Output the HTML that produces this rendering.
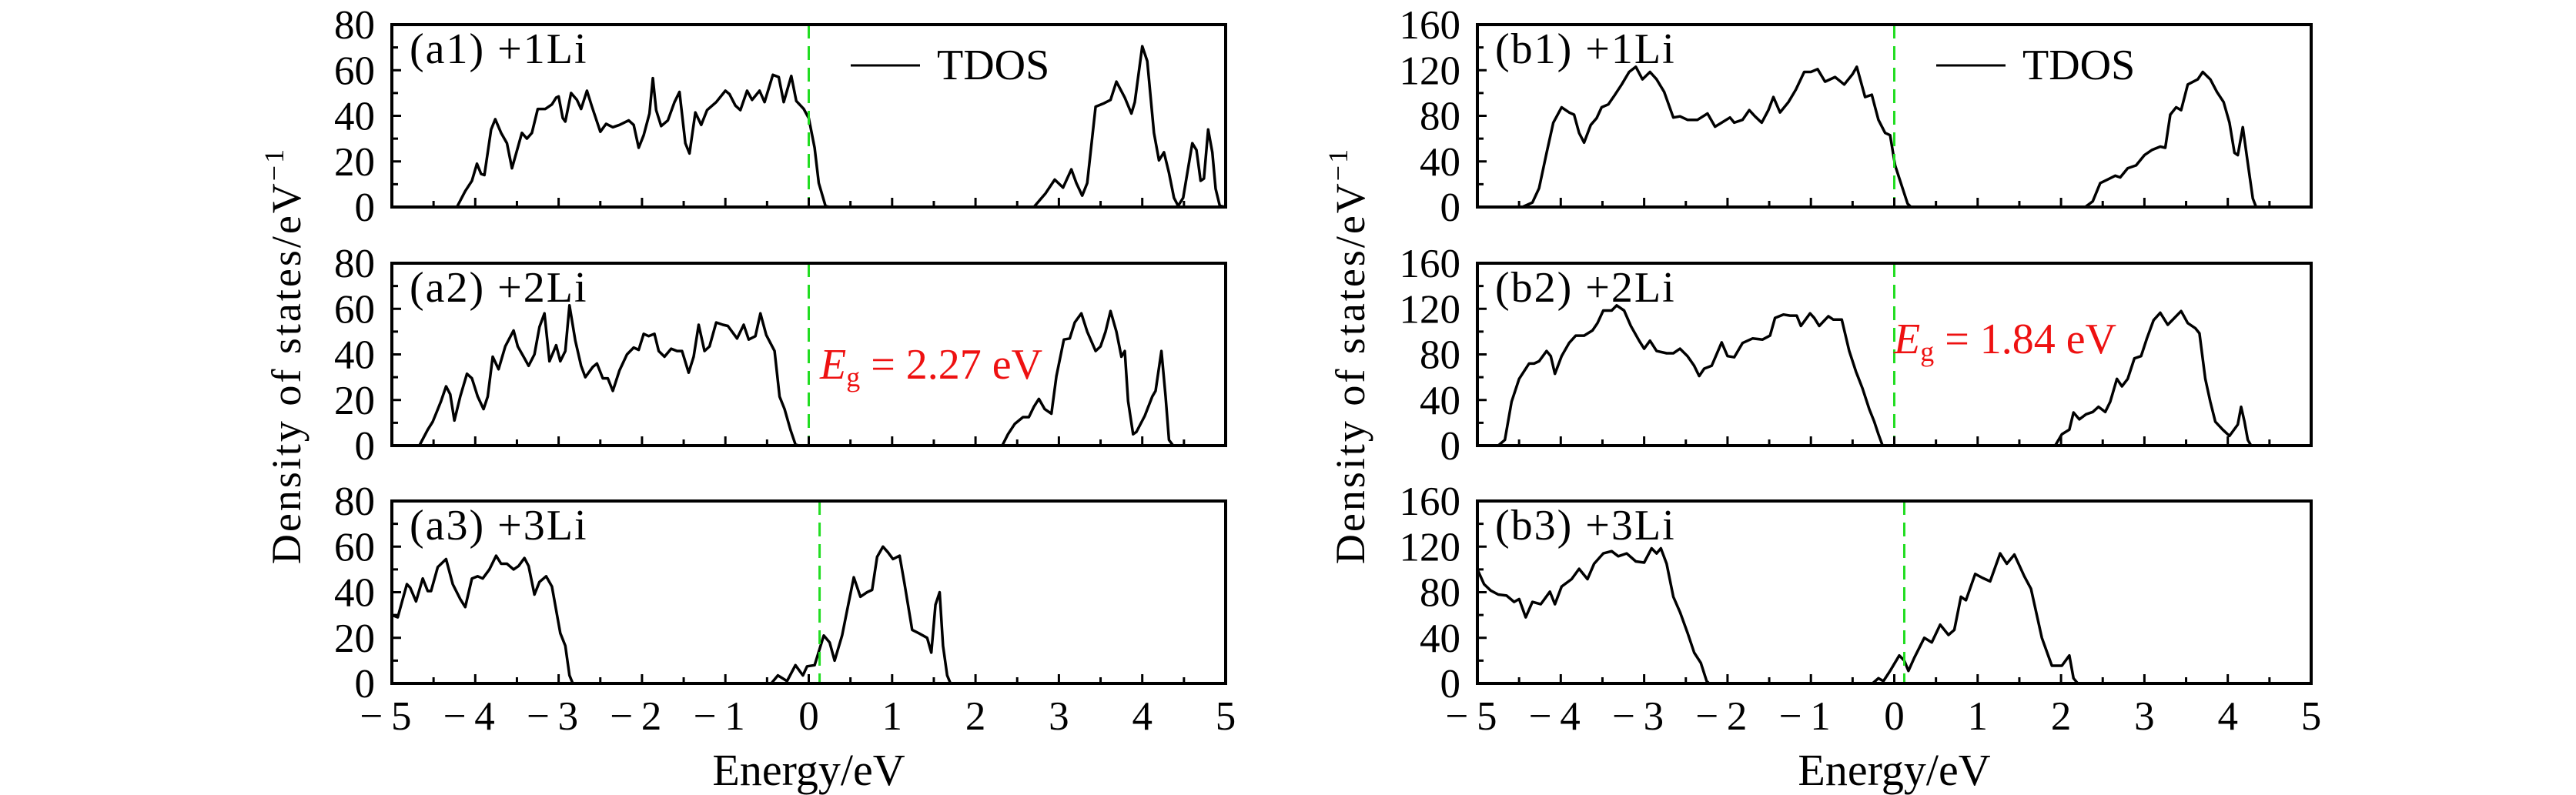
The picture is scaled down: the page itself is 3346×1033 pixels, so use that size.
<!DOCTYPE html>
<html><head><meta charset="utf-8"><style>
html,body{margin:0;padding:0;background:#fff;}
svg{display:block;}
text{font-family:"Liberation Serif",serif;fill:#000;}
</style></head><body>
<svg id="chart" width="3346" height="1033" viewBox="0 0 3346 1033" xmlns="http://www.w3.org/2000/svg"></svg>
<script>
// ---- data ----
const xTicks = [-5,-4,-3,-2,-1,0,1,2,3,4,5];
const yTicksA = [0,20,40,60,80];
const yTicksB = [0,40,80,120,160];
const panelLabels = ["(a1)  +1Li","(a2)  +2Li","(a3)  +3Li","(b1)  +1Li","(b2)  +2Li","(b3)  +3Li"];
const fermiLines = [0,0,0.13,0,0,0.12];
const gapLabels = ["2.27","1.84"];

const a1E=[-5,-4.22,-4.12,-4.04,-3.98,-3.93,-3.89,-3.81,-3.76,-3.69,-3.62,-3.56,-3.49,-3.44,-3.38,-3.32,-3.25,-3.16,-3.08,-3.03,-3.0,-2.95,-2.92,-2.85,-2.78,-2.73,-2.66,-2.6,-2.5,-2.43,-2.35,-2.27,-2.16,-2.1,-2.04,-1.98,-1.91,-1.87,-1.83,-1.77,-1.69,-1.61,-1.55,-1.48,-1.43,-1.36,-1.29,-1.22,-1.11,-1.0,-0.95,-0.88,-0.82,-0.74,-0.68,-0.59,-0.53,-0.43,-0.36,-0.3,-0.21,-0.15,-0.06,0.0,0.07,0.12,0.2,0.25,2.7,2.84,2.95,3.05,3.15,3.21,3.28,3.34,3.44,3.54,3.62,3.69,3.79,3.87,3.91,4.0,4.06,4.14,4.2,4.26,4.32,4.38,4.43,4.49,4.6,4.65,4.7,4.74,4.79,4.84,4.88,4.93,5];
const a1D=[0,0,7,11.5,19,14.5,14,34,38.5,32.5,28,17,26,32.5,30,32.5,43,43,45,48,48.5,39,37.5,50,47,43,51,44,33,36.5,35,36,38,36,26,31.5,41,56.5,42.5,35.5,38,46,50.5,28,23.5,41.5,36,42.5,46,51,49.5,44.5,42.5,51,47,51,46,58,57,46,57.5,46.5,43,39,26,10.5,0.5,0,0,6,12,8.5,16.5,10.5,5,10.5,44,45.5,47,55,48,41,46,70.5,64,32.5,20.5,24,15,4,0.5,4,28,25,11.5,12.5,34,24,8,0.5,0];

const a2E=[-5,-4.67,-4.57,-4.51,-4.46,-4.41,-4.35,-4.3,-4.25,-4.18,-4.1,-4.04,-3.97,-3.9,-3.85,-3.79,-3.72,-3.64,-3.54,-3.49,-3.42,-3.36,-3.29,-3.23,-3.17,-3.11,-3.03,-2.98,-2.92,-2.87,-2.8,-2.73,-2.68,-2.59,-2.54,-2.47,-2.41,-2.35,-2.27,-2.18,-2.1,-2.04,-1.98,-1.92,-1.85,-1.8,-1.73,-1.65,-1.58,-1.52,-1.44,-1.38,-1.32,-1.25,-1.19,-1.11,-1.03,-0.97,-0.86,-0.78,-0.72,-0.64,-0.58,-0.51,-0.41,-0.35,-0.29,-0.22,-0.16,-0.12,2.32,2.39,2.47,2.57,2.64,2.7,2.76,2.83,2.91,2.97,3.06,3.13,3.19,3.27,3.34,3.44,3.5,3.56,3.62,3.69,3.75,3.79,3.83,3.89,3.93,4.03,4.12,4.16,4.23,4.28,4.32,4.37,5];
const a2D=[0,0,7,10.5,15,19.5,26,22.5,11,21.5,31.5,29.5,21.5,16,21.5,39,33.5,43.5,50.5,43.5,39,35,40,52,58,37,44,37,41.5,61.5,46,35,30,34.5,36,29.5,29.5,24,33,40,43,42,49,48,49,41.5,39,42.5,41.5,41.5,32,39,53,41.5,43.5,54,53,52.5,47,53,46.5,48,58,48.5,41.5,21.5,16,7,0.5,0,0,5,9.5,12.5,12.5,17,20.5,16,14,30.5,46.5,47,54,58,50,41.5,43.5,50,59,50,39,41.5,19.5,5,6,13,21.5,24,41.5,21.5,2.5,0,0];

const a3E=[-5,-4.93,-4.82,-4.78,-4.71,-4.63,-4.57,-4.53,-4.45,-4.35,-4.27,-4.18,-4.12,-4.04,-3.97,-3.91,-3.83,-3.75,-3.69,-3.62,-3.54,-3.48,-3.41,-3.36,-3.29,-3.23,-3.15,-3.08,-2.98,-2.92,-2.87,-2.83,-0.45,-0.37,-0.26,-0.16,-0.07,-0.02,0.07,0.18,0.25,0.31,0.4,0.46,0.54,0.62,0.7,0.76,0.82,0.89,0.95,1.01,1.09,1.15,1.24,1.32,1.42,1.47,1.52,1.57,1.61,1.66,1.7,5];
const a3D=[30,29,43.5,42,36,46,40.5,40.5,51,54.5,43.5,37,33.5,46,47,46,50,56,52.5,52.5,50,51.5,55,51.5,39,44.5,47,42.5,22,16.5,3.5,0,0,3.5,1,8,3.5,7.5,8,21,18,10,21,32,46.5,38,40,41,55.5,60,57.5,54.5,56,43.5,23.5,22,20,13.5,34.5,40,16.5,3.5,0,0];

const b1E=[-5,-4.46,-4.34,-4.26,-4.17,-4.09,-3.99,-3.9,-3.84,-3.78,-3.72,-3.64,-3.57,-3.51,-3.43,-3.35,-3.27,-3.18,-3.1,-3.02,-2.93,-2.85,-2.76,-2.65,-2.57,-2.48,-2.36,-2.24,-2.15,-2.07,-1.97,-1.92,-1.82,-1.74,-1.67,-1.59,-1.51,-1.45,-1.37,-1.27,-1.18,-1.08,-1.0,-0.92,-0.83,-0.71,-0.6,-0.5,-0.45,-0.35,-0.27,-0.19,-0.11,-0.05,0.01,0.07,0.16,0.2,2.29,2.38,2.47,2.57,2.65,2.71,2.8,2.9,3.0,3.09,3.19,3.25,3.31,3.38,3.44,3.52,3.64,3.7,3.79,3.87,3.95,4.02,4.08,4.12,4.18,4.24,4.3,4.34,5];
const b1D=[0,0,4,16.5,47.5,74,87.5,83,81,65,56.5,72,78,87.5,90,98.5,107.5,118.5,123,112,118.5,112,101,78.5,79.5,76.5,76.5,82,70.5,74,78.5,74,76.5,85,79.5,74,85,96.5,83,92,103,118.5,118.5,121,110,114,107.5,116.5,123,96.5,98.5,76.5,65,63,36.5,23,3,0,0,5,21,24.5,27.5,26,34,36.5,45.5,50,53,52,81,87.5,85,107.5,112,118.5,112,101,92,74,47.5,45.5,70,38.5,7.5,0,0];

const b2E=[-5,-4.75,-4.67,-4.59,-4.5,-4.38,-4.32,-4.26,-4.17,-4.12,-4.07,-3.99,-3.9,-3.82,-3.72,-3.62,-3.56,-3.49,-3.39,-3.33,-3.24,-3.16,-3.06,-3.0,-2.93,-2.85,-2.73,-2.65,-2.57,-2.48,-2.4,-2.34,-2.28,-2.19,-2.14,-2.07,-2.0,-1.92,-1.82,-1.7,-1.58,-1.49,-1.43,-1.33,-1.25,-1.17,-1.12,-1.01,-0.96,-0.9,-0.79,-0.73,-0.63,-0.54,-0.46,-0.38,-0.3,-0.24,-0.19,-0.14,1.93,2.01,2.1,2.15,2.22,2.3,2.38,2.45,2.53,2.59,2.67,2.73,2.8,2.88,2.96,3.03,3.11,3.19,3.28,3.36,3.44,3.52,3.61,3.66,3.73,3.79,3.85,3.94,4.02,4.12,4.16,4.2,4.24,4.28,5];
const b2D=[0,0,5,38.5,58.5,72,72,74,83,78.5,63,78.5,90,96.5,96.5,101,107.5,118.5,118.5,123,118.5,105,92,85,92,83,81,81,85,78.5,70,61,67.5,70,78.5,90.5,78.5,77.5,90,94,93,96.5,112,115,114,114,105,116,112,105,113.5,110.5,110.5,83,65,50,32,21,10,0,0,10,14,29,23,27.5,29.5,34,29.5,38.5,58.5,52,58.5,76.5,78.5,94,110,116.5,106,112,118,107.5,103,98.5,58.5,38.5,21,14,8.5,18.5,34,21,5,0,0];

const b3E=[-5,-4.92,-4.84,-4.75,-4.65,-4.56,-4.5,-4.42,-4.34,-4.24,-4.13,-4.07,-3.99,-3.87,-3.78,-3.68,-3.6,-3.49,-3.39,-3.31,-3.21,-3.1,-3.0,-2.91,-2.85,-2.8,-2.73,-2.65,-2.57,-2.48,-2.4,-2.32,-2.25,-2.22,-0.26,-0.19,-0.13,-0.05,0.06,0.12,0.17,0.24,0.36,0.45,0.55,0.65,0.72,0.8,0.86,0.97,1.06,1.15,1.27,1.35,1.44,1.56,1.64,1.77,1.89,2.01,2.1,2.15,2.2,5];
const b3D=[100,87,81.5,78,77,71.5,74,58,71.5,69.5,80.5,69.5,85,91.5,100.5,91.5,105,114,116,111.5,114,107,106,118.5,114,118.5,105,76,62.5,44.5,27,18,2,0,0,4.5,2,11,24.5,20,11,22.5,40,36,51.5,42.5,47,76,73,96,92.5,89.5,114,105,113,94,83,40,15.5,15.5,24.5,4.5,0,0];

const seriesE=[a1E,a2E,a3E,b1E,b2E,b3E];
const seriesD=[a1D,a2D,a3D,b1D,b2D,b3D];

// ---- layout ----
const NS="http://www.w3.org/2000/svg";
const svg=document.getElementById('chart');
const colX=[509,1919], W=1083;
const rowY=[32,342,651], H=237;
function mk(tag,attrs,parent){const e=document.createElementNS(NS,tag);for(const k in attrs)e.setAttribute(k,attrs[k]);(parent||svg).appendChild(e);return e;}

for(let p=0;p<6;p++){
  const col=p<3?0:1,row=p%3;
  const x0=colX[col],y0=rowY[row];
  const ymax=col===0?80:160;
  const yTicks=col===0?yTicksA:yTicksB;
  const sx=e=>x0+(e+5)/10*W;
  const sy=v=>y0+H-v/ymax*H;
  const g=mk('g',{});
  
  
  let d='';
  const E=seriesE[p],D=seriesD[p];
  for(let i=0;i<E.length;i++){d+=(i?'L':'M')+sx(E[i]).toFixed(1)+','+sy(D[i]).toFixed(1);}
  const path=mk('path',{d:d,fill:'none',stroke:'#000','stroke-width':3.5,'stroke-linejoin':'round'},g);
  
  
  const fx=sx(fermiLines[p]);
  const fl=mk('line',{x1:fx,x2:fx,y1:y0,y2:y0+H,stroke:'#22dd22','stroke-width':3,'stroke-dasharray':'18 10'},g);
  
  
  for(let e=-5;e<=5.001;e+=0.5){
    const major=Math.abs(e-Math.round(e))<1e-6;
    const t=mk('line',{x1:sx(e),x2:sx(e),y1:y0+H,y2:y0+H-(major?12:8),stroke:'#000','stroke-width':3},g);
    
    
  }
  const step=yTicks[1]-yTicks[0];
  for(let v=0;v<=ymax;v+=step/2){
    const major=(v%step)===0;
    const t=mk('line',{x1:x0,x2:x0+(major?12:8),y1:sy(v),y2:sy(v),stroke:'#000','stroke-width':3},g);
    
    
  }
  yTicks.forEach(v=>{
    const t=mk('text',{x:x0-22,y:sy(v)+18,'text-anchor':'end','font-size':53},g);
    t.textContent=v;
    
    
  });
  const fr=mk('rect',{x:x0,y:y0,width:W,height:H,fill:'none',stroke:'#000','stroke-width':4},g);
  
  
  const pl=mk('text',{x:x0+23,y:y0+50,'font-size':56,'xml:space':'preserve','letter-spacing':2},g);
  pl.textContent=panelLabels[p];
  
  
  if(row===0){
    const ll=mk('line',{x1:x0+596,x2:x0+686,y1:y0+53,y2:y0+53,stroke:'#000','stroke-width':3},g);
    
    
    const lt=mk('text',{x:x0+708,y:y0+71,'font-size':56},g);
    lt.textContent='TDOS';
    
    
  }
  if(row===1){
    const et=mk('text',{x:x0+556-(col?15:0),y:y0+150-(col?33:0),'font-size':56,fill:'#ee1111'},g);
    et.innerHTML='<tspan font-style="italic" fill="#ee1111">E</tspan><tspan font-size="36" dy="10" fill="#ee1111">g</tspan><tspan dy="-10" fill="#ee1111"> = '+gapLabels[col]+' eV</tspan>';
    
    
  }
  if(row===2){
    xTicks.forEach(e=>{
      const t=mk('text',{x:sx(e)-(e<0?8:0),y:948,'text-anchor':'middle','font-size':53},g);
      t.textContent=(e<0?'\u2212\u2009':'')+Math.abs(e);
      
      
    });
    const xt=mk('text',{x:x0+W/2,y:1020,'text-anchor':'middle','font-size':58},g);
    xt.textContent='Energy/eV';
    
    
  }
  if(row===0){
    const cx=col===0?372:1754;
    const yt=mk('text',{x:cx+18,y:462,'text-anchor':'middle','font-size':54,'letter-spacing':3,transform:'rotate(-90 '+(cx+18)+' 462)'},svg);
    yt.innerHTML='Density of states/eV<tspan font-size="36" dy="-22">\u2212</tspan><tspan font-size="36">1</tspan>';
    
    
  }
}
</script>
</body></html>
